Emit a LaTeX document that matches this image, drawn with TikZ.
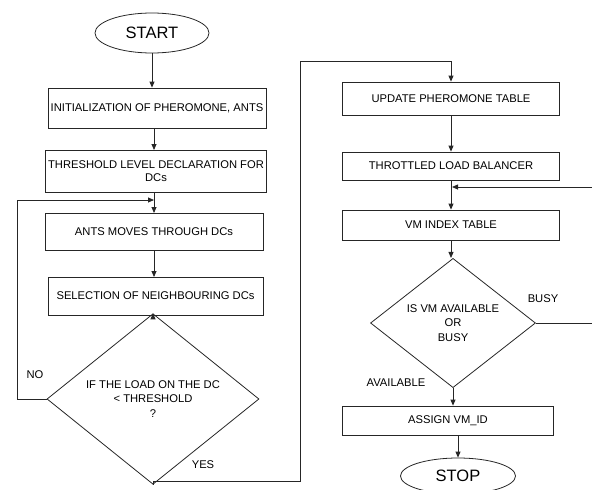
\documentclass[tikz,border=0pt]{standalone}
\usepackage{fontspec}
\setmainfont{Liberation Sans}
\usetikzlibrary{shapes.geometric,arrows.meta}
\begin{document}
\begin{tikzpicture}[x=1pt,y=-1pt,
  conn/.style={draw=black!85, line width=0.8pt},
  arr/.style={conn, -{Triangle[length=6pt,width=5pt]}},
  procbox/.style={draw=black!85, line width=0.8pt, rectangle, inner sep=0pt,
    align=center, font=\fontsize{11.2}{13.5}\selectfont},
  term/.style={ellipse, draw=black!85, line width=0.8pt, inner sep=0pt,
    font=\fontsize{16.5}{18}\selectfont},
  dec/.style={diamond, draw=black!85, line width=0.8pt, inner sep=0pt,
    align=center, font=\fontsize{11.2}{14.5}\selectfont},
  lbl/.style={font=\fontsize{11.2}{13}\selectfont, inner sep=0pt}]
\useasboundingbox (0,0) rectangle (592,490);
% left column
\node[term, minimum width=114pt, minimum height=40pt] (start) at (152,33) {START};
\node[procbox, minimum width=218pt, minimum height=40pt] (init) at (157,108) {INITIALIZATION OF PHEROMONE, ANTS};
\node[procbox, minimum width=221pt, minimum height=42pt] (thr) at (156,171) {THRESHOLD LEVEL DECLARATION FOR\\DCs};
\node[procbox, minimum width=218pt, minimum height=37pt] (ants) at (154,231.5) {ANTS MOVES THROUGH DCs};
\node[procbox, minimum width=215pt, minimum height=38pt] (sel) at (155.5,296) {SELECTION OF NEIGHBOURING DCs};
\node[dec, minimum width=212pt, minimum height=124pt] (d1) at (153,399) {IF THE LOAD ON THE DC\\\textless{} THRESHOLD\\?};
% right column
\node[procbox, minimum width=217pt, minimum height=33pt] (upd) at (451,98.5) {UPDATE PHEROMONE TABLE};
\node[procbox, minimum width=217pt, minimum height=28pt] (thl) at (451,166) {THROTTLED LOAD BALANCER};
\node[procbox, minimum width=217pt, minimum height=30pt] (vmi) at (451,225) {VM INDEX TABLE};
\node[dec, minimum width=165pt, minimum height=100pt] (d2) at (453,323) {IS VM AVAILABLE\\OR\\BUSY};
\node[procbox, minimum width=211pt, minimum height=29pt] (asg) at (448,420.5) {ASSIGN VM\_ID};
\node[term, minimum width=115pt, minimum height=36pt] (stop) at (458,476) {STOP};
% labels
\node[lbl] (lno) at (35,375) {NO};
\node[lbl] (lyes) at (203,465) {YES};
\node[lbl] (lbusy) at (543,299) {BUSY};
\node[lbl] (lavail) at (396,383) {AVAILABLE};
% helper coordinates
\coordinate (mergeL) at (154,200);
\coordinate (noL) at (17,200);
\coordinate (yesA) at (153,481);
\coordinate (yesB) at (300,61);
\coordinate (mergeR) at (452,187);
\coordinate (busyR) at (597,187);
% connectors left
\draw[arr] (start.south) -- (start.south |- init.north);
\draw[arr] (init.south -| 154,0) -- (154,150);
\draw[arr] (thr.south -| 154,0) -- (154,213);
\draw[arr] (ants.south -| 154,0) -- (154,277);
\draw[arr] (sel.south -| 153,0) -- (d1.north);
\draw[arr] (d1.west) -| (noL) -- (mergeL);
\draw[arr] (d1.south) -- (yesA) -| (yesB) -| (upd.north);
% connectors right
\draw[arr] (upd.south) -- (thl.north);
\draw[arr] (thl.south) -- (vmi.north);
\draw[arr] (vmi.south) -- (vmi.south |- d2.north);
\draw[arr] (d2.east) -| (busyR) -- (mergeR);
\draw[arr] (d2.south) -- (d2.south |- asg.north);
\draw[arr] (stop.north |- asg.south) -- (stop.north);
\end{tikzpicture}
\end{document}
